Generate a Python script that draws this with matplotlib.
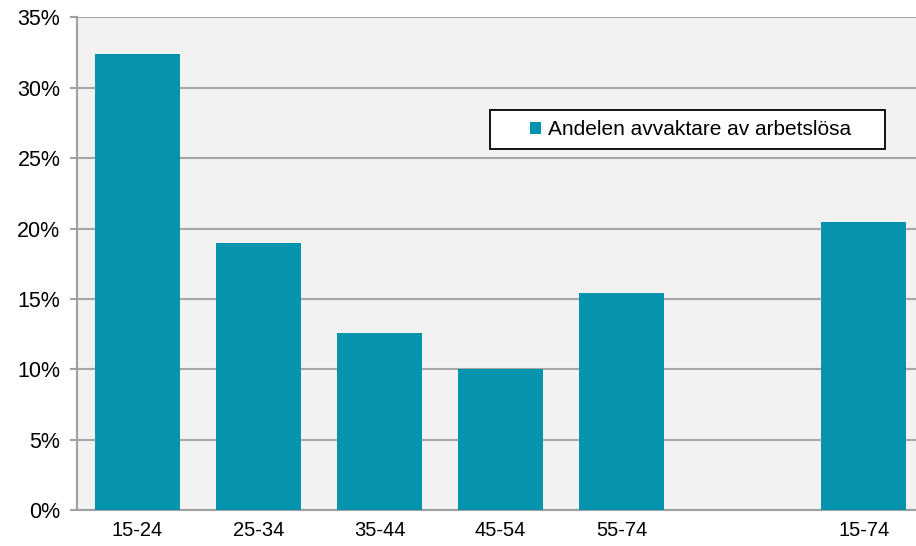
import numpy as np
import matplotlib.pyplot as plt
from matplotlib.patches import Rectangle

plt.rcParams['font.family'] = ['Liberation Sans', 'DejaVu Sans']

# Data
age_groups = ["15-24", "25-34", "35-44", "45-54", "55-74", "", "15-74"]
share = [32.4, 19.0, 12.6, 10.0, 15.4, np.nan, 20.5]
yticks = [0, 5, 10, 15, 20, 25, 30, 35]

fig = plt.figure(figsize=(9.16, 5.46), dpi=100)
# right edge of the plot area runs past the figure, like the cropped original
ax = fig.add_axes([0.084, 0.066, 0.925, 0.902])
ax.set_facecolor('#f2f2f2')

x = np.arange(len(age_groups))
ax.bar(x, share, width=0.70, color='#0593ae', zorder=3,
       label="Andelen avvaktare av arbetslösa")

ax.set_xlim(-0.5, len(age_groups) - 0.5)
ax.set_ylim(0, 35)
ax.set_yticks(yticks)
ax.set_yticklabels([f"{t}%" for t in yticks])
ax.set_xticks(x)
ax.set_xticklabels(age_groups)

ax.grid(axis='y', color='#a6a6a6', linewidth=1.5, zorder=0)
for side in ['top', 'right']:
    ax.spines[side].set_visible(False)
for side in ['left', 'bottom']:
    ax.spines[side].set_color('#a0a0a0')
    ax.spines[side].set_linewidth(1.5)

ax.tick_params(axis='y', length=5, width=1.5, color='#a0a0a0', labelsize=15.5, pad=7)
ax.tick_params(axis='x', length=0, labelsize=14.5, pad=8)

# legend box drawn separately so the entry sits centred in a wide frame
box = Rectangle((0.4876, 0.733), 0.4664, 0.079, transform=ax.transAxes,
                facecolor='white', edgecolor='black', linewidth=1.3, zorder=5)
ax.add_patch(box)
leg = ax.legend(loc='center', bbox_to_anchor=(0.7245, 0.7725), fontsize=15,
                frameon=False, handlelength=0.5, handleheight=0.5,
                handletextpad=0.35, borderpad=0, borderaxespad=0)
leg.set_zorder(6)

fig.savefig('out.png', dpi=100)
